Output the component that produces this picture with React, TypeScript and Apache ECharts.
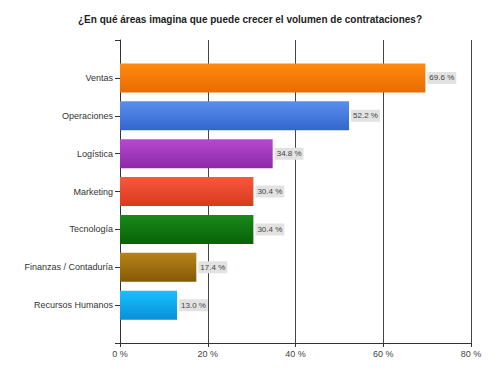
import React, { useEffect, useRef } from "react";
import * as echarts from "echarts";

const title = "¿En qué áreas imagina que puede crecer el volumen de contrataciones?";
const categories = [
  "Ventas",
  "Operaciones",
  "Logística",
  "Marketing",
  "Tecnología",
  "Finanzas / Contaduría",
  "Recursos Humanos",
];
const values = [69.6, 52.2, 34.8, 30.4, 30.4, 17.4, 13.0];
const barColors = [
  ["#ff8a10", "#e86c00"],
  ["#5a8ff0", "#3366cc"],
  ["#b848d0", "#8c2aa8"],
  ["#f8583c", "#d83a20"],
  ["#1a8a1a", "#066206"],
  ["#b88418", "#865806"],
  ["#18c0ff", "#0a90d8"],
];
const xTicks = { min: 0, max: 80, interval: 20 };

export default function App() {
  const ref = useRef<HTMLDivElement>(null);
  useEffect(() => {
    if (!ref.current) return;
    const chart = echarts.init(ref.current, null, { renderer: "svg" });
    const axisCats = ["", ...categories, ""];
    const data = [
      null,
      ...values.map((v, i) => ({
        value: v,
        itemStyle: {
          color: new echarts.graphic.LinearGradient(0, 0, 0, 1, [
            { offset: 0, color: barColors[i][0] },
            { offset: 1, color: barColors[i][1] },
          ]),
        },
      })),
      null,
    ];
    chart.setOption({
      animation: false,
      backgroundColor: "#ffffff",
      title: {
        text: title,
        left: "center",
        top: 9,
        textStyle: {
          fontFamily: "Liberation Sans, Arial, sans-serif",
          fontSize: 10,
          fontWeight: "bold",
          color: "#222",
        },
      },
      grid: { left: 120, right: 29, top: 40, bottom: 32, containLabel: false },
      xAxis: {
        type: "value",
        min: xTicks.min,
        max: xTicks.max,
        interval: xTicks.interval,
        axisLine: { show: true, lineStyle: { color: "#333", width: 1 } },
        axisTick: { show: true, length: 4, lineStyle: { color: "#333" } },
        axisLabel: {
          formatter: "{value} %",
          fontFamily: "Liberation Sans, Arial, sans-serif",
          fontSize: 9,
          color: "#444",
          margin: 6,
        },
        splitLine: { show: true, lineStyle: { color: "#444", width: 1 } },
      },
      yAxis: {
        type: "category",
        data: axisCats,
        inverse: true,
        boundaryGap: false,
        axisLine: { show: true, lineStyle: { color: "#333", width: 1 } },
        axisTick: { show: true, length: 5, lineStyle: { color: "#333" } },
        axisLabel: {
          fontFamily: "Liberation Sans, Arial, sans-serif",
          fontSize: 9,
          color: "#333",
          margin: 7,
          interval: 0,
        },
        splitLine: { show: false },
      },
      series: [
        {
          type: "bar",
          data,
          barWidth: 29,
          label: {
            show: true,
            position: "right",
            distance: 2,
            formatter: (p: any) => p.value.toFixed(1) + " %",
            fontFamily: "Liberation Sans, Arial, sans-serif",
            fontSize: 8,
            color: "#444",
            backgroundColor: "#e2e2e2",
            padding: [2, 2, 2, 2],
          },
        },
      ],
    });
    return () => chart.dispose();
  }, []);
  return (
    <div
      ref={ref}
      style={{ position: "absolute", left: 0, top: 0, width: 500, height: 375 }}
    />
  );
}
